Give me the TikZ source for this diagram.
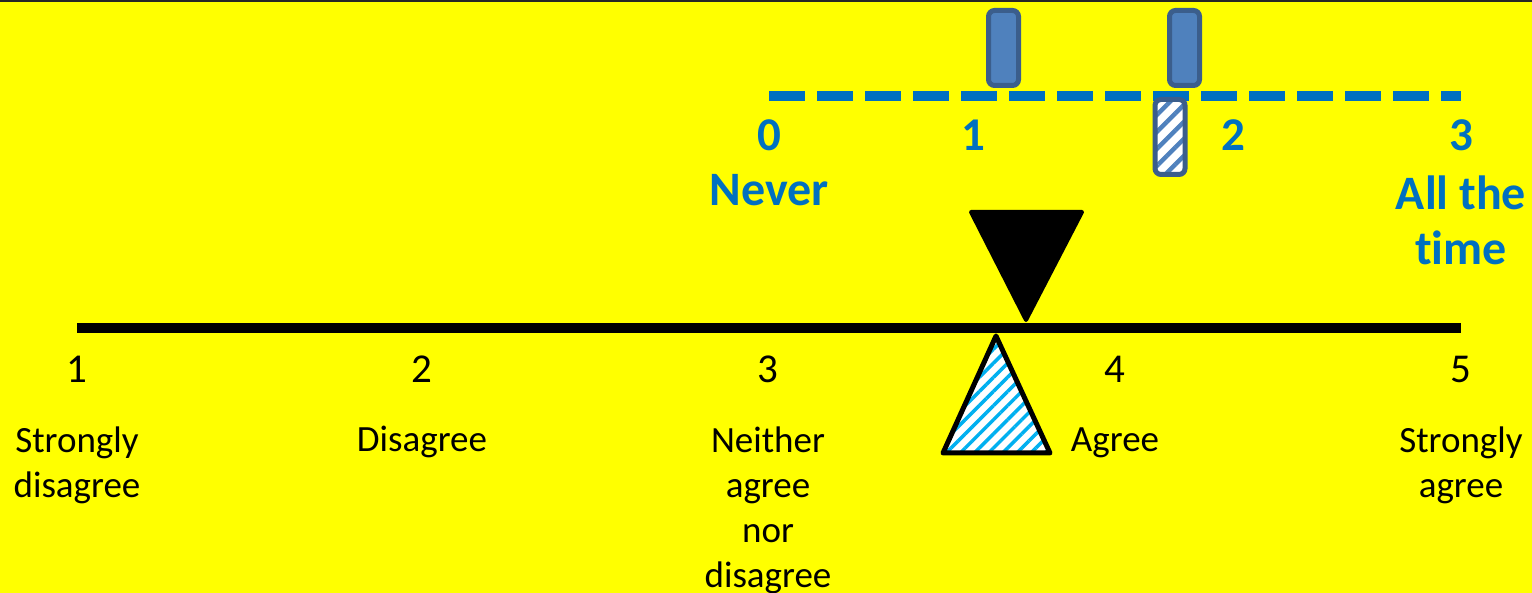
\documentclass[tikz,border=0pt]{standalone}
\usepackage{fontspec}
\setmainfont{Carlito}[Ligatures=CommonOff]
\usetikzlibrary{patterns.meta}
\definecolor{bgyellow}{HTML}{FFFF00}
\definecolor{scaleblue}{HTML}{0070C0}
\definecolor{barfill}{HTML}{4F81BD}
\definecolor{barline}{HTML}{3B5E8C}
\definecolor{cyanstripe}{HTML}{00B0F0}
\begin{document}
\begin{tikzpicture}[x=1pt,y=-1pt,
  numlab/.style={font=\fontsize{41}{48}\selectfont, inner sep=0pt, anchor=base},
  desc/.style={font=\fontsize{37}{45}\selectfont, align=center, inner sep=0pt, anchor=base},
  toplab/.style={font=\fontsize{47}{55}\selectfont\bfseries, text=scaleblue, inner sep=0pt, anchor=base},
  topword/.style={font=\fontsize{48}{55}\selectfont\bfseries, text=scaleblue, align=center, inner sep=0pt, anchor=base},
  bar/.style={draw=barline, fill=barfill, line width=5pt, rounded corners=6pt,
    minimum width=30pt, minimum height=75pt, inner sep=0pt},
  hatchbar/.style={draw=barline, line width=5pt, rounded corners=6pt,
    minimum width=30pt, minimum height=75pt, inner sep=0pt,
    preaction={fill=white},
    pattern={Lines[angle=45,distance=12pt,line width=4.5pt]}, pattern color=barfill},
]
\useasboundingbox (0,0) rectangle (1532,593);
\fill[bgyellow] (0,0) rectangle (1532,593);
\draw[line width=2pt, black!85] (0,1) -- (1532,1);

% top scale
\coordinate (sL) at (769,96);
\coordinate (sR) at (1461,96);
\draw[scaleblue, line width=10pt, dash pattern=on 36pt off 12pt] (sL) -- (sR);
\node[bar] (b1) at (1003.5,48) {};
\node[bar] (b2) at (1184.5,48) {};
\node[hatchbar] (hb) at (1170,137) {};

\node[toplab] (t0) at (769,151) {0};
\node[toplab] (t1) at (973,151) {1};
\node[toplab] (t2) at (1233,151) {2};
\node[toplab] (t3) at (1461,151) {3};
\node[topword] (never) at (769,206) {Never};
\node[topword] (allt) at (1461,265) {All the\\time};

% main axis
\coordinate (aL) at (77,328);
\coordinate (aR) at (1461,328);
\draw[line width=10pt, black] (aL) -- (aR);

% pointer triangle
\filldraw[black, line width=4pt, line join=round] (971,212) -- (1082,212) -- (1026,320) -- cycle;
% hatched fulcrum triangle
\draw[black, line width=5pt, line join=round, preaction={fill=white},
  pattern={Lines[angle=45,distance=10pt,line width=3.5pt]}, pattern color=cyanstripe]
  (996,336) -- (1050,453) -- (943,453) -- cycle;

\node[numlab] (n1) at (77,383) {1};
\node[numlab] (n2) at (422,383) {2};
\node[numlab] (n3) at (768,383) {3};
\node[numlab] (n4) at (1115,383) {4};
\node[numlab] (n5) at (1461,383) {5};

\node[desc] (d1) at (77,497) {Strongly\\disagree};
\node[desc] (d2) at (422,452) {Disagree};
\node[desc] (d3) at (768,587) {Neither\\agree\\nor\\disagree};
\node[desc] (d4) at (1115,452) {Agree};
\node[desc] (d5) at (1461,497) {Strongly\\agree};
\end{tikzpicture}
\end{document}
